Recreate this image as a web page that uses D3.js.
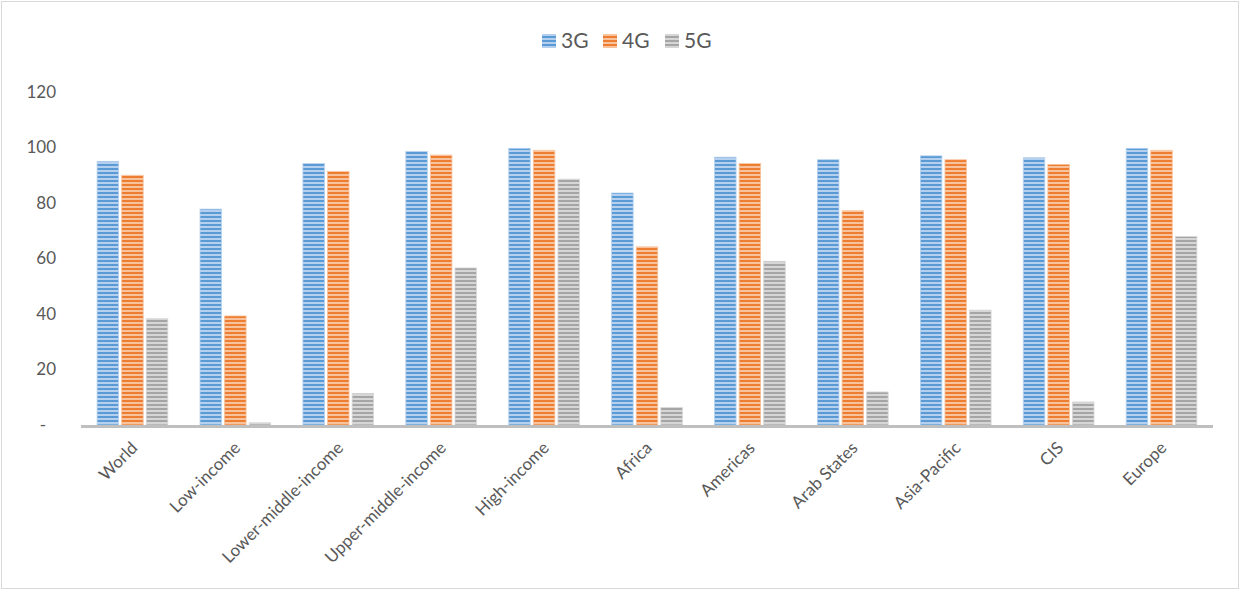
<!DOCTYPE html>
<html><head><meta charset="utf-8">
<script src="https://cdn.jsdelivr.net/npm/d3@7"></script>
<style>
html,body{margin:0;padding:0;background:#fff;}
svg{display:block;}
text{font-family:Lato,"Open Sans",sans-serif;fill:#595959;}
</style></head>
<body>
<svg id="chart" width="1240" height="590"></svg>
<script>
const categories = ["World","Low-income","Lower-middle-income","Upper-middle-income","High-income","Africa","Americas","Arab States","Asia-Pacific","CIS","Europe"];
const seriesNames = ["3G","4G","5G"];
const values3G = [95.0, 77.8, 94.2, 98.6, 99.7, 83.6, 96.5, 95.6, 97.0, 96.3, 99.7];
const values4G = [90.0, 39.3, 91.4, 97.3, 99.0, 64.2, 94.2, 77.2, 95.6, 93.9, 99.0];
const values5G = [38.3, 0.8, 11.4, 56.6, 88.6, 6.3, 59.0, 11.9, 41.4, 8.3, 67.9];
const yTicks = [0, 20, 40, 60, 80, 100, 120];
const tickLabels = ["-", "20", "40", "60", "80", "100", "120"];

const seriesValues = [values3G, values4G, values5G];
const dark = ["#5b9bd5", "#ed7d31", "#a5a5a5"];
const light = ["#b4d0ee", "#f8c29d", "#d6d6d6"];

const svg = d3.select("#chart");
svg.append("rect").attr("x",1.5).attr("y",1.5).attr("width",1237).attr("height",587)
  .attr("fill","#fff").attr("stroke","#d9d9d9").attr("stroke-width",1);

const defs = svg.append("defs");
seriesNames.forEach((s,i)=>{
  const p = defs.append("pattern").attr("id","pat"+i).attr("patternUnits","userSpaceOnUse")
    .attr("width",8).attr("height",4);
  p.append("rect").attr("width",8).attr("height",4).attr("fill",light[i]);
  p.append("rect").attr("y",0).attr("width",8).attr("height",2).attr("fill",dark[i]);
});

const x0 = d3.scaleBand().domain(categories).range([81, 1213]).paddingInner(0).paddingOuter(0);
const y = d3.scaleLinear().domain([0,120]).range([425, 92]);
const barW = 21.5, step = 24.6;

svg.append("g").selectAll("text").data(yTicks).join("text")
  .attr("x", d => d===0 ? 46 : 56).attr("y", d => y(d)).attr("dy","0.35em")
  .attr("text-anchor","end").attr("font-size",17)
  .text((d,i)=>tickLabels[i]);

seriesNames.forEach((s,si)=>{
  svg.append("g").selectAll("rect").data(categories).join("rect")
    .attr("x", c => x0(c) + x0.bandwidth()/2 + (si-1)*step - barW/2)
    .attr("y", (c,ci) => y(seriesValues[si][ci]))
    .attr("width", barW)
    .attr("height", (c,ci) => y(0) - y(seriesValues[si][ci]))
    .attr("fill", "url(#pat"+si+")")
    .attr("stroke", light[si]).attr("stroke-width",0.8);
});

svg.append("line").attr("x1",81).attr("x2",1213).attr("y1",426.5).attr("y2",426.5)
  .attr("stroke","#bfbfbf").attr("stroke-width",3);

svg.append("g").selectAll("text").data(categories).join("text")
  .attr("transform", c => `translate(${x0(c)+x0.bandwidth()/2+6},${449}) rotate(-45)`)
  .attr("text-anchor","end").attr("font-size",17)
  .text(c=>c);

const legX = [542, 603, 665];
const lg = svg.append("g");
seriesNames.forEach((s,i)=>{
  lg.append("rect").attr("x",legX[i]).attr("y",34).attr("width",14).attr("height",14)
    .attr("fill","url(#pat"+i+")");
  lg.append("text").attr("x",legX[i]+19).attr("y",41).attr("dy","0.35em")
    .attr("font-size",21).text(s);
});
</script>
</body></html>
